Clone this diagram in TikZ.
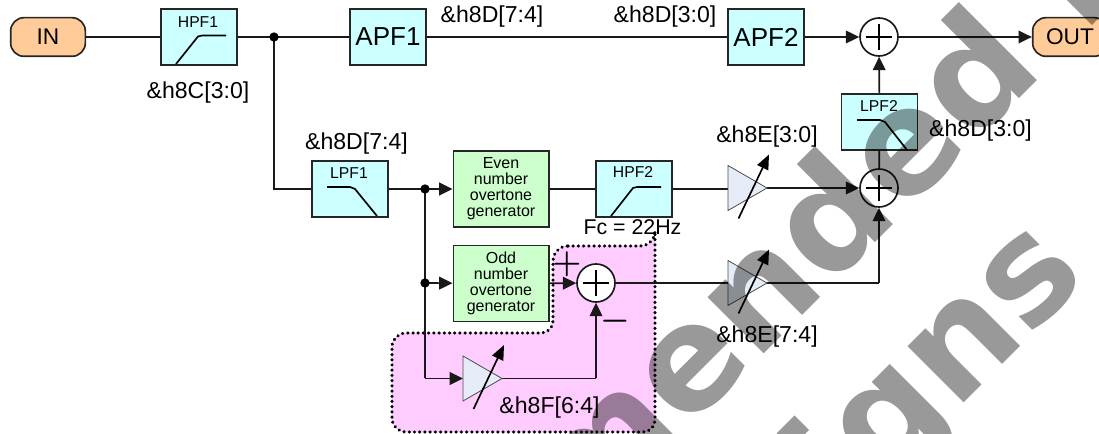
\documentclass[tikz,border=0pt]{standalone}
\usepackage{fontspec}
\setmainfont{Liberation Sans}
\newfontfamily\wmfont{DejaVu Sans}
\usetikzlibrary{arrows.meta,calc}
\definecolor{cy}{RGB}{204,255,255}
\definecolor{gr}{RGB}{204,255,204}
\definecolor{org}{RGB}{255,204,153}
\definecolor{pk}{RGB}{255,204,255}
\definecolor{tri}{RGB}{230,236,247}
\tikzset{
 x=0.75pt,y=-0.75pt,
 wire/.style={line width=1.25pt,black!90},
 arr/.style={wire,-{Triangle[length=10pt,width=9.5pt]}},
 cyanbox/.style={draw=black!85,line width=1.25pt,fill=cy,inner sep=0pt,minimum width=57pt,minimum height=42pt},
 apfbox/.style={cyanbox,font=\fontsize{19.5}{19.5}\selectfont},
 genbox/.style={draw=black!85,line width=1.25pt,fill=gr,inner sep=0pt,minimum width=71.5pt,minimum height=57pt,align=center,font=\fontsize{12}{12}\selectfont},
 term/.style={draw=black!85,line width=1.25pt,fill=org,rounded corners=10pt,inner sep=0pt,minimum width=56pt,minimum height=29pt,font=\fontsize{17}{17}\selectfont},
 sumc/.style={draw=black!90,line width=1.25pt,fill=white,circle,inner sep=0pt,minimum size=28.5pt},
 dotn/.style={circle,fill=black,inner sep=0pt,minimum size=7pt},
 lab/.style={font=\fontsize{17.3}{17.3}\selectfont,inner sep=0pt},
 small/.style={font=\fontsize{11.8}{12}\selectfont,inner sep=0pt},
 ampl/.style={draw=black!70,line width=.6pt,fill=tri},
 curve/.style={line width=1.25pt,line join=round},
 sign/.style={font=\fontsize{23}{23}\selectfont\boldmath,inner sep=0pt},
 wm/.style={font=\wmfont\bfseries\fontsize{109}{109}\selectfont,text=black!40,inner sep=0pt,rotate=45,blend mode=multiply},
}
\begin{document}
\begin{tikzpicture}
\useasboundingbox (0,0) rectangle (1099,434);
% pink region
\draw[fill=pk,draw=black,line width=2.6pt,dash pattern=on 0.01pt off 3.9pt,line cap=round]
 (568,246) -- (640,246) arc[start angle=90,end angle=0,radius=15] -- (655,420) arc[start angle=0,end angle=90,radius=12] -- (406,432)
 arc[start angle=90,end angle=180,radius=14] -- (392,347) arc[start angle=180,end angle=270,radius=14] -- (541,333)
 arc[start angle=90,end angle=0,radius=12] -- (553,261) arc[start angle=180,end angle=270,radius=15] -- cycle;
% nodes
\node[term] (in) at (48,37) {IN};
\node[term] (out) at (1070,37) {OUT};
\node[cyanbox] (hpf1) at (199,37) {};
\node[small] (hpf1t) at (198,22) {HPF1};
\node[apfbox] (apf1) at (388,37) {APF1};
\node[apfbox] (apf2) at (766,37) {APF2};
\node[cyanbox] (lpf1) at (350,189) {};
\node[small] (lpf1t) at (349,173) {LPF1};
\node[cyanbox] (hpf2) at (634,189) {};
\node[small] (hpf2t) at (633,172) {HPF2};
\node[cyanbox] (lpf2) at (879.5,122) {};
\node[small] (lpf2t) at (879,106) {LPF2};
\node[genbox] (even) at (501,189) {Even\\number\\overtone\\generator};
\node[genbox] (odd) at (501,283.5) {Odd\\number\\overtone\\generator};
\node[sumc] (s1) at (879,37) {};
\node[sumc] (s2) at (879,188) {};
\node[sumc] (s3) at (596,283) {};
\coordinate (j1) at (274,37);
\coordinate (j2) at (425,189);
\coordinate (j3) at (425,283);
\coordinate (c1) at (274,189);
\coordinate (c2) at (425,378.5);
\coordinate (c3) at (596,378.5);
\coordinate (c4) at (879,283);
\coordinate (a1in) at (728,189);
\coordinate (a1out) at (767,188);
\coordinate (a3in) at (463,378.5);
% filter curves
\draw[curve] (176,64) -- (198,36.5) -- (202,35.5) -- (226,35.5);
\draw[curve] (327,187) -- (350,187) -- (355,189) -- (377,216);
\draw[curve] (611,216) -- (633,188) -- (637,187) -- (661,187);
\draw[curve] (857,120) -- (880,120) -- (885,122) -- (907,150);
% wires
\draw[wire] (in) -- (hpf1);
\draw[wire] (hpf1) -- (apf1);
\draw[wire] (apf1) -- (apf2);
\draw[arr] (apf2) -- (s1);
\draw[arr] (s1) -- (out);
\draw[arr] (lpf2) -- (s1);
\draw[wire] (s2) -- (lpf2);
\draw[wire] (j1) -- (c1) -- (lpf1);
\draw[wire] (lpf1) -- (j2);
\draw[arr] (j2) -- (even);
\draw[arr] (j3) -- (odd);
\draw[wire] (j2) -- (c2);
\draw[wire] (even) -- (hpf2);
\draw[arr] (odd) -- (s3);
\draw[arr] (c3) -- (s3);
\draw[arr] (c4) -- (s2);
\draw[arr] (c2) -- (a3in);
\draw[wire] (a3in) -- (c3);
\draw[wire] (s3) -- (c4);
\draw[wire] (hpf2) -- (a1in);
\draw[arr] (a1out) -- (s2);
\node[dotn] (d1) at (j1) {};
\node[dotn] (d2) at (j2) {};
\node[dotn] (d3) at (j3) {};
% sum crosses
\foreach \n in {s1,s2,s3}{
 \draw[line width=1pt] ($(\n)+(-13,0)$) -- ($(\n)+(13,0)$);
 \draw[line width=1pt] ($(\n)+(0,-13)$) -- ($(\n)+(0,13)$);
}
% amplifiers
\foreach \xx/\yy in {728/188,728/283,463/378.5}{
 \draw[ampl] (\xx,\yy-22.5) -- (\xx+39,\yy) -- (\xx,\yy+22.5) -- cycle;
 \draw[line width=1.25pt,-{Triangle[length=11pt,width=9pt]}] (\xx+10.5,\yy+30.5) -- (\xx+41,\yy-33.5);
}
% labels
\node[lab] (l1) at (198,93) {\&h8C[3:0]};
\node[lab] (l2) at (356.5,144) {\&h8D[7:4]};
\node[lab] (l3) at (492,17) {\&h8D[7:4]};
\node[lab] (l4) at (665,17) {\&h8D[3:0]};
\node[lab] (l5) at (767,137) {\&h8E[3:0]};
\node[lab] (l6) at (980.5,131) {\&h8D[3:0]};
\node[lab] (l7) at (767,337) {\&h8E[7:4]};
\node[lab] (l8) at (549.5,408) {\&h8F[6:4]};
\node[lab,font=\fontsize{16}{16}\selectfont] (l9) at (632.5,227) {Fc = 22Hz};
\node[sign] (pl) at (567,264) {$+$};
\node[sign] (mi) at (615,321) {$-$};
% watermark
\begin{scope}
\clip (0,0) rectangle (1099,434);
\node[wm,anchor=base east] (w1) at (1046,72) {mended};
\node[wm,anchor=base west] (w2) at (1081,37) {f};
\node[wm,anchor=base east] (w3) at (1090,277) {signs};
\end{scope}
\end{tikzpicture}
\end{document}
